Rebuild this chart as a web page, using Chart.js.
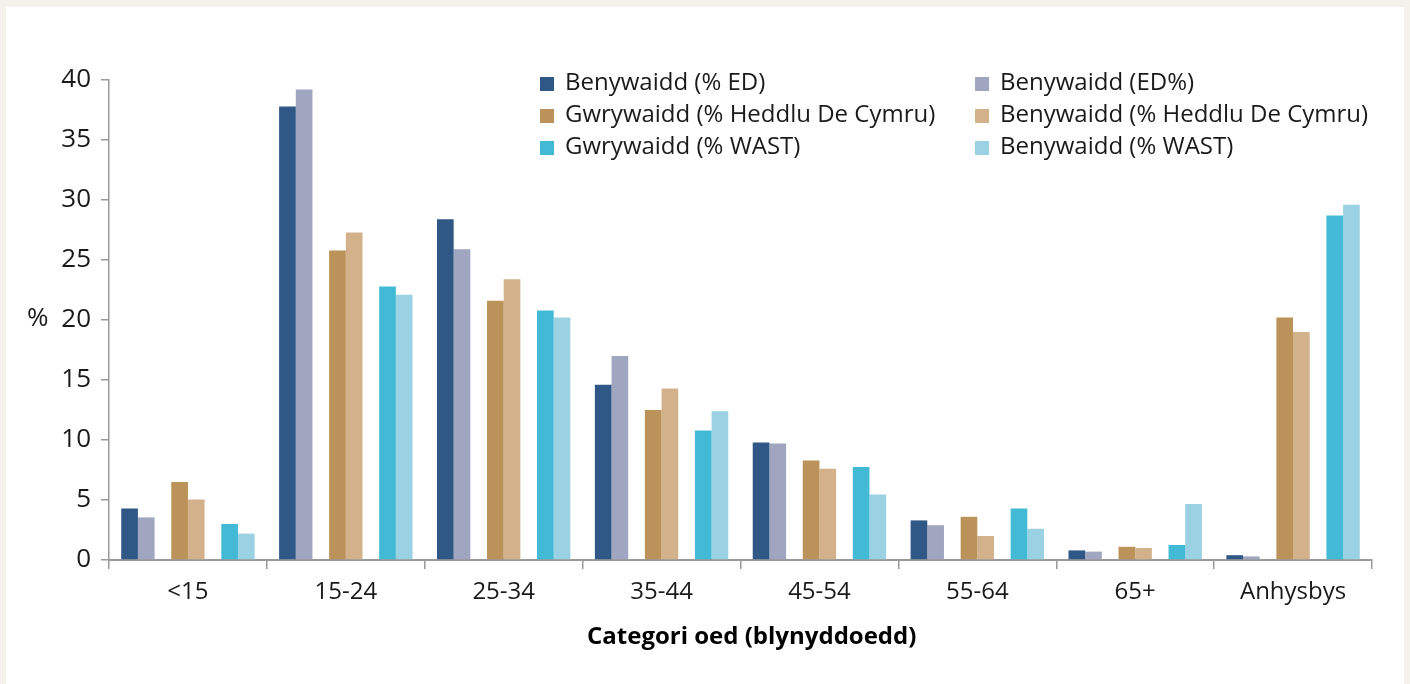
<!DOCTYPE html>
<html>
<head>
<meta charset="utf-8">
<script src="https://cdn.jsdelivr.net/npm/chart.js@4/dist/chart.umd.min.js"></script>
<style>
  html, body { margin:0; padding:0; background:#f5f1eb; }
  #wrap { position:relative; width:1410px; height:684px; overflow:hidden; }
  #panel { position:absolute; left:6px; top:7px; width:1398px; height:677px; background:#ffffff; }
  #c { position:absolute; left:0; top:0; }
  .txt { position:absolute; font-family:"Open Sans", "Noto Sans", sans-serif; color:#1a1a1a; white-space:nowrap; }
  .leg { font-size:24px; font-weight:400; line-height:28px; }
  .sw { position:absolute; width:14px; height:14px; }
</style>
</head>
<body>
<div id="wrap">
  <div id="panel"></div>
  <canvas id="c" width="1410" height="684"></canvas>
  <div id="legend"></div>
  <div class="txt" style="left:27px;top:301px;font-size:26px;line-height:30px;font-weight:400;">%</div>
  <div class="txt" id="xtitle" style="left:587px;top:620px;font-size:24px;line-height:29px;font-weight:700;color:#000;">Categori oed (blynyddoedd)</div>
</div>
<script>
const categories = ["<15", "15-24", "25-34", "35-44", "45-54", "55-64", "65+", "Anhysbys"];
const seriesNames = [
  "Benywaidd (% ED)",
  "Benywaidd (ED%)",
  "Gwrywaidd (% Heddlu De Cymru)",
  "Benywaidd (% Heddlu De Cymru)",
  "Gwrywaidd (% WAST)",
  "Benywaidd (% WAST)"
];
const seriesColors = ["#2f5886", "#a0a5c0", "#bb925a", "#d3b28b", "#42bad6", "#9ad2e4"];
const edMale      = [4.3, 37.8, 28.4, 14.6, 9.8, 3.3, 0.8, 0.4];
const edFemale    = [3.55, 39.2, 25.9, 17.0, 9.7, 2.9, 0.7, 0.3];
const policeMale  = [6.5, 25.8, 21.6, 12.5, 8.3, 3.6, 1.1, 20.2];
const policeFemale= [5.05, 27.3, 23.4, 14.3, 7.6, 2.0, 1.0, 19.0];
const wastMale    = [3.0, 22.8, 20.8, 10.8, 7.75, 4.3, 1.25, 28.7];
const wastFemale  = [2.2, 22.1, 20.2, 12.4, 5.45, 2.6, 4.67, 29.6];
const yTicks = [0, 5, 10, 15, 20, 25, 30, 35, 40];

const seriesValues = [edMale, edFemale, policeMale, policeFemale, wastMale, wastFemale];
const spacer = categories.map(() => null);

const datasets = [];
seriesValues.forEach((vals, i) => {
  datasets.push({ label: seriesNames[i], data: vals, backgroundColor: seriesColors[i], borderWidth: 0 });
  if (i === 1 || i === 3) datasets.push({ label: "", data: spacer, backgroundColor: "rgba(0,0,0,0)" });
});

// HTML legend (2 columns x 3 rows)
const legend = document.getElementById('legend');
const legCols = [540, 975];
const legRows = [73, 105, 137]; // cap-top of each row
seriesNames.forEach((name, i) => {
  const col = i % 2, row = Math.floor(i / 2);
  const sw = document.createElement('div');
  sw.className = 'sw';
  sw.style.left = legCols[col] + 'px';
  sw.style.top = (legRows[row] + 4) + 'px';
  sw.style.background = seriesColors[i];
  legend.appendChild(sw);
  const t = document.createElement('div');
  t.className = 'txt leg';
  t.style.left = (legCols[col] + 25) + 'px';
  t.style.top = (legRows[row] - 6) + 'px';
  t.textContent = name;
  legend.appendChild(t);
});

const axisColor = '#9a9a9a';
const fontFam = '"Open Sans", "Noto Sans", sans-serif';
new Chart(document.getElementById('c'), {
  type: 'bar',
  data: { labels: categories, datasets },
  options: {
    responsive: false,
    animation: false,
    layout: { padding: { left: 0, top: 80, right: 38, bottom: 0 } },
    plugins: { legend: { display: false }, tooltip: { enabled: false } },
    datasets: { bar: { categoryPercentage: 0.845, barPercentage: 1.0 } },
    scales: {
      x: {
        grid: { offset: true, drawOnChartArea: false, drawTicks: true, tickLength: 9, color: axisColor, lineWidth: 1.5 },
        border: { display: true, color: axisColor, width: 2 },
        ticks: { color: '#1a1a1a', padding: 9, font: { family: fontFam, size: 24, weight: 400 } },
        afterFit: (s) => { s.height = 124; }
      },
      y: {
        min: 0, max: 40,
        afterBuildTicks: (s) => { s.ticks = yTicks.map(v => ({ value: v })); },
        grid: { drawOnChartArea: false, drawTicks: true, tickLength: 8, color: axisColor, lineWidth: 1.5 },
        border: { display: true, color: axisColor, width: 1.5 },
        ticks: { color: '#1a1a1a', padding: 10, font: { family: fontFam, size: 26, weight: 400 } },
        afterFit: (s) => { s.width = 109; }
      }
    }
  }
});
</script>
</body>
</html>
